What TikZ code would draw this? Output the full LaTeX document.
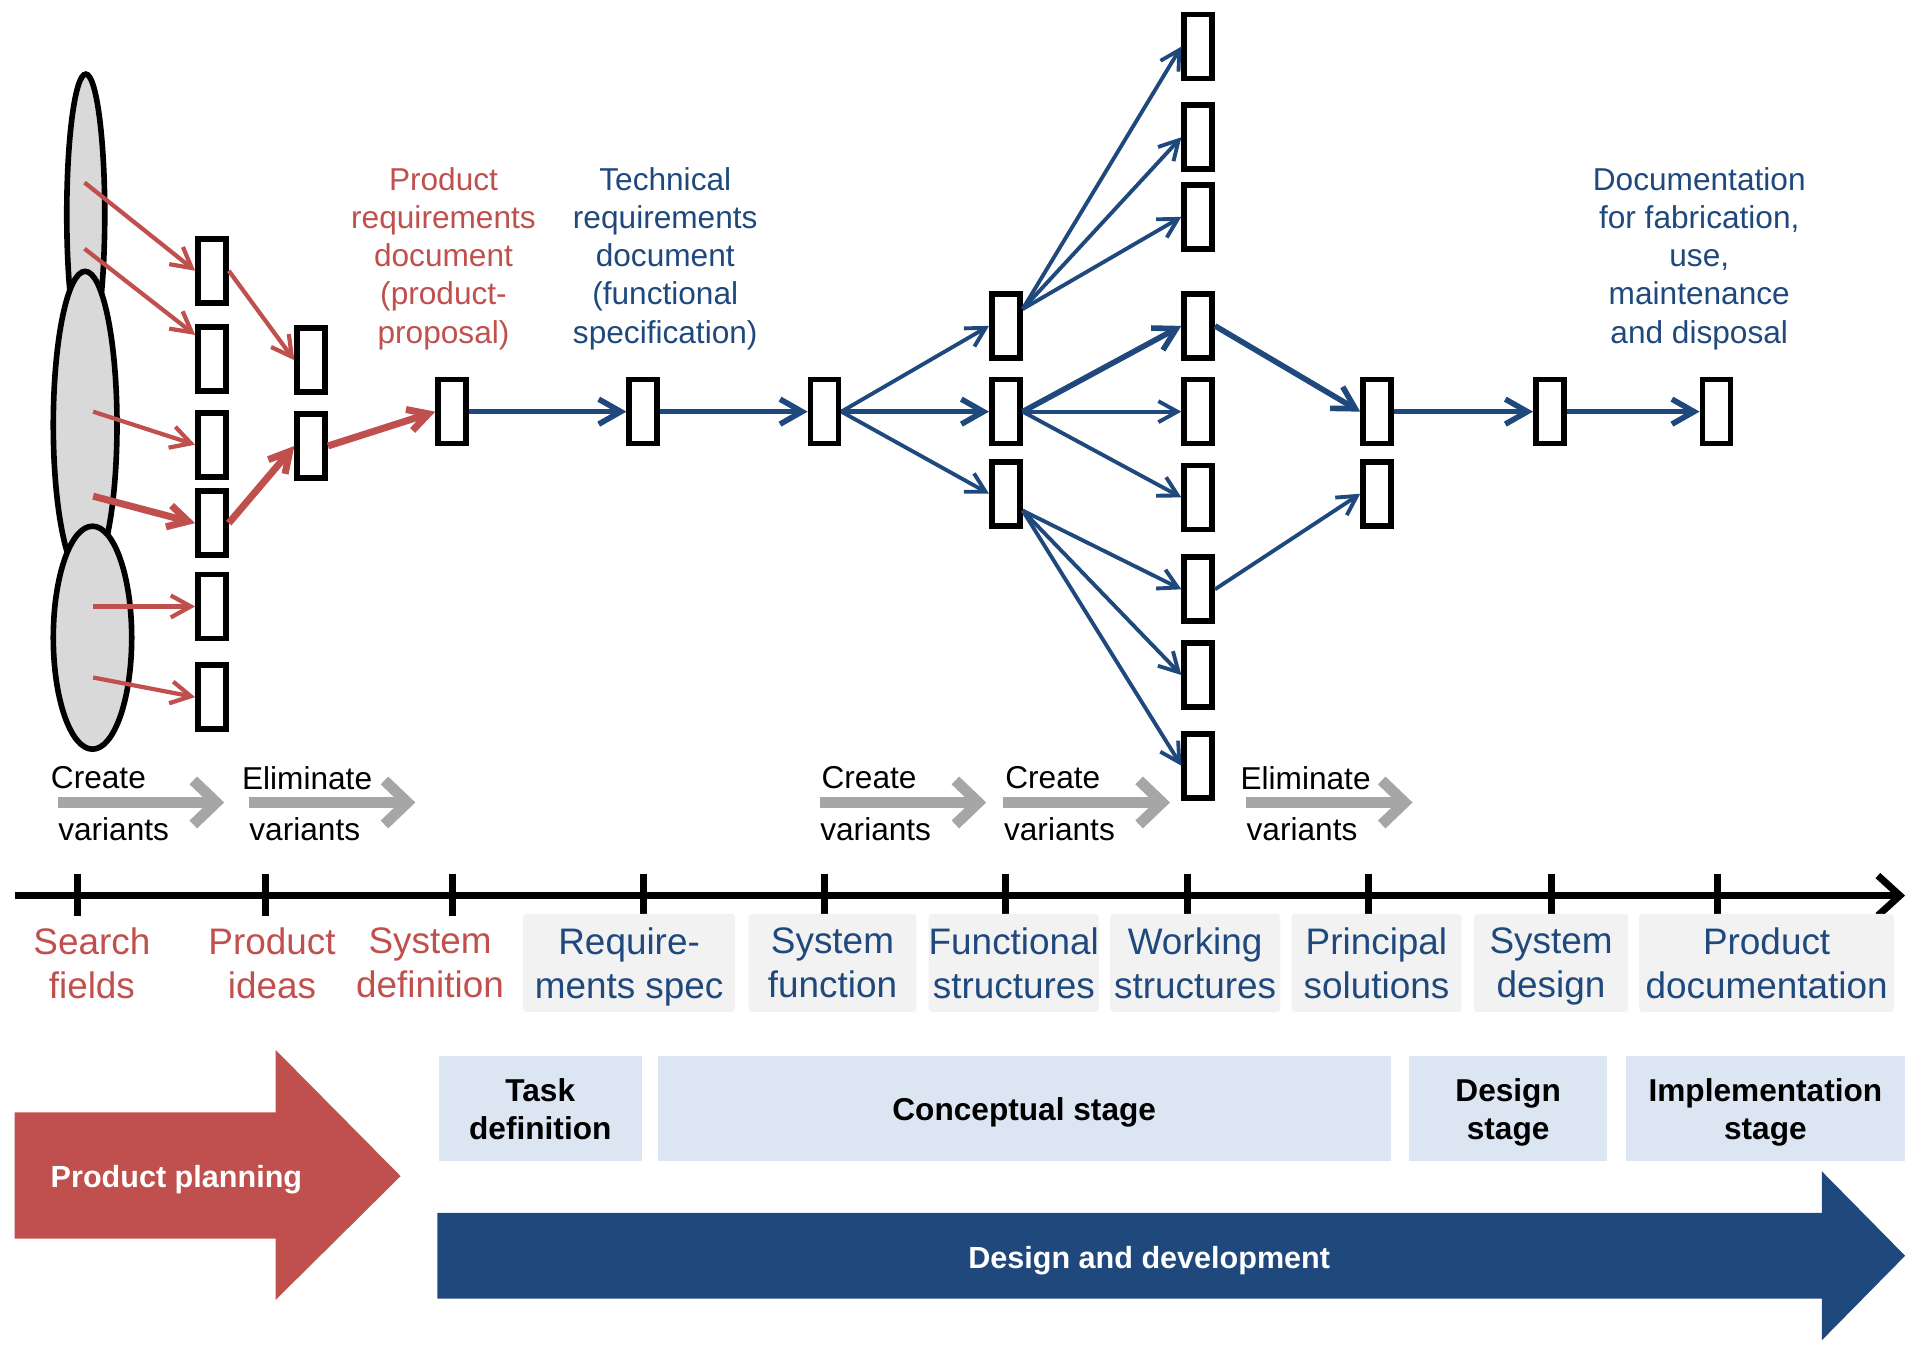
\documentclass[tikz,border=0pt]{standalone}
\usepackage{fontspec}
\setmainfont{Liberation Sans}
\usetikzlibrary{positioning,arrows.meta,shapes.geometric}
\newcommand{\upx}{0.012251cm}
\definecolor{planred}{HTML}{C0504D}
\definecolor{devblue}{HTML}{1F497D}
\definecolor{stageblue}{HTML}{DCE6F2}
\definecolor{labelgray}{HTML}{F2F2F2}
\definecolor{flowgray}{HTML}{A6A6A6}
\definecolor{fieldgray}{HTML}{D9D9D9}
\tikzset{
  variant/.style={
    draw,
    rectangle,
    line width=1.6pt,
    fill=white,
    inner sep=0pt,
    minimum width=0.28cm,
    minimum height=0.64cm
  },
  field/.style={
    draw,
    ellipse,
    line width=1.6pt,
    fill=fieldgray,
    inner sep=0pt
  },
  redline/.style={draw=planred,line width=1.2pt,-{Straight Barb[length=2mm,width=2.2mm]}},
  redthick/.style={redline,line width=2pt},
  blueline/.style={draw=devblue,line width=1.1pt,-{Straight Barb[length=1.9mm,width=2.1mm]}},
  bluethick/.style={draw=devblue,line width=1.6pt,-{Straight Barb[length=2.2mm,width=2.5mm]}},
  doc/.style={align=center,font=\fontsize{9}{10.9}\selectfont},
  phase/.style={align=center,inner sep=0pt,text depth=0pt,font=\fontsize{10.5}{12.5}\selectfont},
  phasebox/.style={phase,fill=labelgray,rounded corners=1pt,minimum height=80*\upx,text=devblue},
  stage/.style={fill=stageblue,align=center,text depth=0pt,minimum height=86*\upx,font=\fontsize{9}{10.9}\selectfont\bfseries},
  bigtext/.style={text=white,font=\fontsize{8.7}{10.5}\selectfont\bfseries},
  hint/.style={anchor=west,inner sep=0pt,font=\fontsize{9}{10.9}\selectfont},
  flow/.style={draw=flowgray,line width=3.1pt,-{Straight Barb[length=2.3mm,width=4.4mm]}},
  timeline/.style={line width=2pt,-{Straight Barb[length=2.2mm,width=4mm]}},
  tick/.style={line width=2pt}
}
\begin{document}
\begin{tikzpicture}[x=\upx,y=-\upx]
\useasboundingbox (0,0) rectangle (1568,1099);

					% search fields
					\node[field, minimum width=31*\upx, minimum height=229*\upx] (field1) at (70,175) {};
					\node[field, minimum width=52*\upx, minimum height=251*\upx] (field2) at (69.5,347) {};
					\node[field, minimum width=64*\upx, minimum height=182*\upx] (field3) at (75.5,520.5) {};

					\coordinate (src1) at (69,149);
					\coordinate (src2) at (69,203);
					\coordinate (src3) at (76,336);
					\coordinate (src4) at (76,405);
					\coordinate (src5) at (76,495);
					\coordinate (src6) at (76,553);

					% product ideas
					\node[variant] (idea1) at (173,221) {};
					\node[variant] (idea2) at (173,293) {};
					\node[variant] (idea3) at (173,363) {};
					\node[variant] (idea4) at (173,427) {};
					\node[variant] (idea5) at (173,495) {};
					\node[variant] (idea6) at (173,569) {};

					\node[variant] (pick1) at (254,294) {};
					\node[variant] (pick2) at (254,364) {};

					\draw[redline] (src1) -- (idea1.west);
					\draw[redline] (src2) -- (idea2.125);
					\draw[redline] (src3) -- (idea3.west);
					\draw[redthick] (src4) -- (idea4.west);
					\draw[redline] (src5) -- (idea5.west);
					\draw[redline] (src6) -- (idea6.west);
					\draw[redline] (idea1.east) -- (pick1.west);
					\draw[redthick] (idea4.east) -- (pick2.west);

					% main chain
					\node[variant] (sysdef) at (369,336) {};
					\node[variant] (reqspec) at (525,336) {};
					\node[variant] (sysfunc) at (673,336) {};

					\draw[redthick] (pick2.east) -- (sysdef.west);
					\draw[bluethick] (sysdef.east) -- (reqspec.west);
					\draw[bluethick] (reqspec.east) -- (sysfunc.west);

					% functional structures
					\node[variant] (fs1) at (821,266) {};
					\node[variant] (fs2) at (821,336) {};
					\node[variant] (fs3) at (821,403) {};

					\draw[blueline] (sysfunc.east) -- (fs1.west);
					\draw[bluethick] (sysfunc.east) -- (fs2.west);
					\draw[blueline] (sysfunc.east) -- (fs3.west);

					% working structures
					\node[variant] (ws1) at (978,38) {};
					\node[variant] (ws2) at (978,112) {};
					\node[variant] (ws3) at (978,177) {};
					\node[variant] (ws4) at (978,266) {};
					\node[variant] (ws5) at (978,336) {};
					\node[variant] (ws6) at (978,406) {};
					\node[variant] (ws7) at (978,481) {};
					\node[variant] (ws8) at (978,551) {};
					\node[variant] (ws9) at (978,625) {};

					\draw[blueline] (fs1.45) -- (ws1.west);
					\draw[blueline] (fs1.45) -- (ws2.west);
					\draw[blueline] (fs1.45) -- (ws3.west);
					\draw[bluethick] (fs2.east) -- (ws4.west);
					\draw[blueline] (fs2.east) -- (ws5.west);
					\draw[blueline] (fs2.east) -- (ws6.west);
					\draw[blueline] (fs3.-45) -- (ws7.west);
					\draw[blueline] (fs3.-45) -- (ws8.west);
					\draw[blueline] (fs3.-45) -- (ws9.west);

					% principal solutions and design
					\node[variant] (ps1) at (1124,336) {};
					\node[variant] (ps2) at (1124,403) {};
					\node[variant] (sysdes) at (1265,336) {};
					\node[variant] (proddoc) at (1401,336) {};

					\draw[bluethick] (ws4.east) -- (ps1.west);
					\draw[blueline] (ws7.east) -- (ps2.west);
					\draw[bluethick] (ps1.east) -- (sysdes.west);
					\draw[bluethick] (sysdes.east) -- (proddoc.west);

					% documents
					\node[doc, text=planred] (prd) at (362,211) {Product\\requirements\\document\\(product-\\proposal)};
					\node[doc, text=devblue] (trd) at (543,211) {Technical\\requirements\\document\\(functional\\specification)};
					\node[doc, text=devblue] (docs) at (1387,211) {Documentation\\for fabrication,\\use,\\maintenance\\and disposal};

					% create / eliminate variants
					\foreach \i/\xa/\xb/\word in {1/41/47/Create, 2/197/203/Eliminate, 3/670/669/Create, 4/820/819/Create, 5/1012/1017/Eliminate}{
						\node[hint] (act\i) at (\xa,635) {\word};
						\node[hint] (var\i) at (\xb,677) {variants};
						\coordinate (from\i) at (\xb,655);
						\coordinate (to\i) at (\xb+136,655);
						\draw[flow] (from\i) -- (to\i);
					}

					% time line
					\coordinate (tl0) at (12,731);
					\coordinate (tl1) at (1555,731);
					\draw[timeline] (tl0) -- (tl1);
					\foreach \x in {63,217,369,525,673,821,969,1117,1266,1402}
						\draw[tick] (\x,713) -- (\x,748);

					\node[phase, text=planred] (search) at (75,786) {Search\\fields};
					\node[phase, text=planred] (ideas) at (222,786) {Product\\ideas};
					\node[phase, text=planred] (definition) at (351,786) {System\\definition};
					\node[phasebox, minimum width=173*\upx] (reql) at (513.5,786) {Require-\\ments spec};
					\node[phasebox, minimum width=137*\upx] (funcl) at (679.5,786) {System\\function};
					\node[phasebox, minimum width=139*\upx] (fsl) at (827.5,786) {Functional\\structures};
					\node[phasebox, minimum width=139*\upx] (wsl) at (975.5,786) {Working\\structures};
					\node[phasebox, minimum width=139*\upx] (psl) at (1123.5,786) {Principal\\solutions};
					\node[phasebox, minimum width=126*\upx] (desl) at (1266,786) {System\\design};
					\node[phasebox, minimum width=208*\upx] (docl) at (1442,786) {Product\\documentation};

					% stages
					\node[stage, minimum width=166*\upx] (taskdef) at (441,905) {Task\\definition};
					\node[stage, minimum width=598*\upx] (concept) at (836,905) {Conceptual stage};
					\node[stage, minimum width=162*\upx] (designst) at (1231,905) {Design\\stage};
					\node[stage, minimum width=228*\upx] (implement) at (1441,905) {Implementation\\stage};

					\fill[planred] (12,908) -- (225,908) -- (225,857) -- (327,960) -- (225,1061) -- (225,1011) -- (12,1011) -- cycle;
					\node[bigtext] (planning) at (144,963) {Product planning};

					\fill[devblue] (357,990) -- (1487,990) -- (1487,956) -- (1555,1025) -- (1487,1094) -- (1487,1060) -- (357,1060) -- cycle;
					\node[bigtext] (development) at (938,1029) {Design and development};

\end{tikzpicture}
\end{document}
